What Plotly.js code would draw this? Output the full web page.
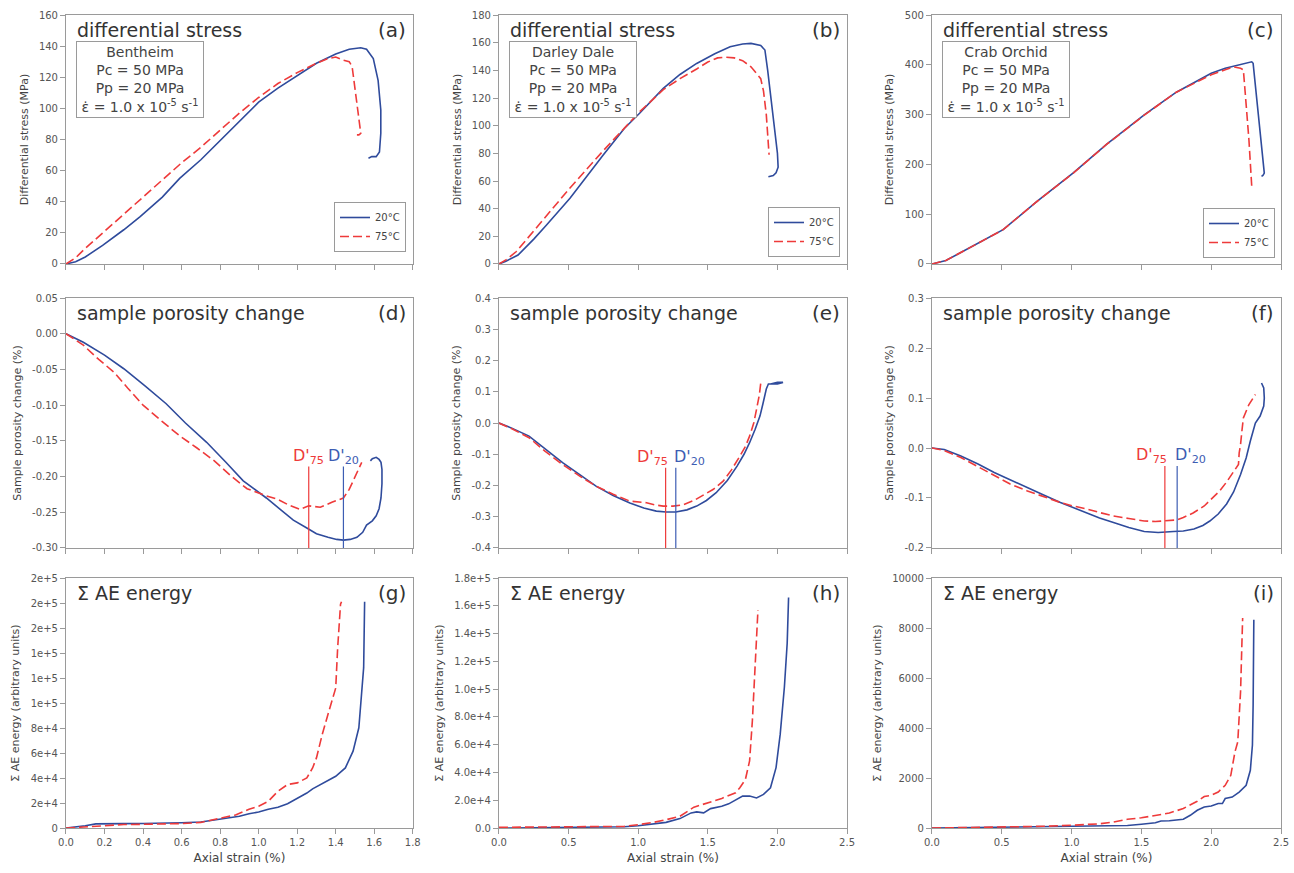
<!DOCTYPE html>
<html>
<head>
<meta charset="utf-8">
<script src="https://cdn.plot.ly/plotly-3.0.1.min.js"></script>
<style>html,body{margin:0;padding:0;background:#fff;}#chart{width:1294px;height:873px;}</style>
</head>
<body>
<div id="chart"></div>
<script>
// ---------- DATA ----------
const seriesNames = ["20°C", "75°C"];
const rocks = ["Bentheim", "Darley Dale", "Crab Orchid"];
const panelLetters = ["(a)","(b)","(c)","(d)","(e)","(f)","(g)","(h)","(i)"];

// (a) differential stress, Bentheim
const aX20 = [0,0.05,0.1,0.19,0.3,0.385,0.5,0.59,0.7,0.8,0.9,1.0,1.1,1.2,1.3,1.4,1.47,1.53,1.56,1.595,1.62,1.634,1.634,1.627,1.61,1.587,1.57];
const aY20 = [0,1.5,4.5,12,22,30.5,43,55,67,79.5,92,104,113,121,129,135,138,139,138,132,118,99,84,72,69,69,68];
const aX75 = [0,0.05,0.1,0.2,0.3,0.4,0.5,0.6,0.7,0.8,0.9,1.0,1.1,1.2,1.3,1.36,1.4,1.44,1.47,1.485,1.495,1.51,1.525,1.53,1.52,1.51];
const aY75 = [0,4,10,21,32,43,54,65,75,86,97,107,116,123,129,132,133,131,130,127,118,104,90,84,83,83];

// (b) differential stress, Darley Dale
const bX20 = [0,0.05,0.137,0.25,0.34,0.51,0.75,0.9,1.01,1.18,1.3,1.42,1.55,1.66,1.75,1.81,1.88,1.91,1.93,1.95,1.98,2.0,2.005,1.99,1.97,1.95,1.935];
const bY20 = [0,2,6.5,18,28,47.5,79,98,109,127,137,145,152,157,159,159.5,158,154.7,140,124,100,80,70,66,64,63.5,63];
const bX75 = [0,0.05,0.125,0.25,0.34,0.51,0.75,0.9,1.01,1.18,1.3,1.42,1.5,1.57,1.63,1.69,1.75,1.81,1.86,1.88,1.9,1.92,1.94];
const bY75 = [0,3,9,24,35,55,82,98,110,126,134,141,146,149,149.5,149,147,142.6,137,134,125,108,79];

// (c) differential stress, Crab Orchid
const cX20 = [0,0.1,0.2,0.35,0.51,0.75,1.01,1.25,1.52,1.75,2.0,2.1,2.21,2.26,2.29,2.30,2.32,2.34,2.36,2.38,2.37,2.36];
const cY20 = [0,7,22,45,69,125,182.5,240,299.5,345,383,393,400,404,406,403,345,285,225,182.5,178,176];
const cX75 = [0,0.1,0.2,0.35,0.51,0.75,1.01,1.25,1.52,1.75,2.0,2.1,2.16,2.21,2.23,2.25,2.27,2.29];
const cY75 = [0,7,22,45,69,125,182,240,299,345,380,390,396,393,390,320,249,156];

// (d) porosity change, Bentheim
const dX20 = [0,0.09,0.2,0.3,0.41,0.52,0.62,0.73,0.83,0.92,1.04,1.11,1.18,1.25,1.30,1.36,1.405,1.44,1.475,1.51,1.54,1.56,1.59,1.61,1.625,1.635,1.64,1.64,1.635,1.625,1.61,1.59,1.58];
const dY20 = [0,-0.012,-0.03,-0.049,-0.073,-0.098,-0.125,-0.152,-0.18,-0.206,-0.23,-0.245,-0.261,-0.272,-0.28,-0.285,-0.288,-0.289,-0.288,-0.285,-0.278,-0.268,-0.262,-0.255,-0.245,-0.23,-0.21,-0.19,-0.18,-0.176,-0.173,-0.175,-0.178];
const dX75 = [0,0.09,0.17,0.25,0.32,0.4,0.5,0.59,0.68,0.77,0.86,0.94,1.04,1.1,1.15,1.215,1.26,1.32,1.38,1.44,1.47,1.49,1.515,1.535];
const dY75 = [0,-0.016,-0.036,-0.054,-0.076,-0.1,-0.123,-0.143,-0.16,-0.178,-0.2,-0.217,-0.227,-0.232,-0.239,-0.246,-0.241,-0.243,-0.236,-0.23,-0.218,-0.206,-0.193,-0.18];

// (e) porosity change, Darley Dale
const eX20 = [0,0.1,0.216,0.33,0.457,0.58,0.697,0.82,0.94,1.04,1.13,1.2,1.27,1.35,1.42,1.49,1.56,1.64,1.71,1.76,1.80,1.84,1.875,1.895,1.92,1.935,2.0,2.04,2.0,1.95];
const eY20 = [0,-0.018,-0.042,-0.083,-0.127,-0.165,-0.202,-0.232,-0.256,-0.272,-0.282,-0.285,-0.285,-0.278,-0.266,-0.248,-0.223,-0.184,-0.138,-0.1,-0.063,-0.02,0.023,0.06,0.109,0.125,0.125,0.13,0.13,0.125];
const eX75 = [0,0.1,0.216,0.33,0.457,0.58,0.697,0.82,0.94,1.06,1.12,1.18,1.25,1.32,1.4,1.47,1.54,1.61,1.67,1.73,1.77,1.80,1.83,1.85,1.87,1.88];
const eY75 = [0,-0.02,-0.047,-0.09,-0.133,-0.17,-0.202,-0.228,-0.25,-0.255,-0.262,-0.266,-0.266,-0.262,-0.248,-0.229,-0.212,-0.186,-0.15,-0.106,-0.075,-0.042,0.0,0.044,0.09,0.127];

// (f) porosity change, Crab Orchid
const fX20 = [0,0.088,0.207,0.33,0.446,0.56,0.684,0.8,0.92,1.01,1.11,1.2,1.30,1.41,1.52,1.62,1.73,1.8,1.876,1.94,1.99,2.05,2.11,2.16,2.21,2.25,2.28,2.30,2.316,2.35,2.376,2.38,2.376,2.36];
const fY20 = [0,-0.003,-0.016,-0.032,-0.049,-0.064,-0.079,-0.094,-0.109,-0.119,-0.129,-0.14,-0.149,-0.159,-0.167,-0.169,-0.167,-0.166,-0.162,-0.155,-0.146,-0.132,-0.112,-0.088,-0.053,-0.02,0.014,0.035,0.05,0.064,0.084,0.1,0.12,0.13];
const fX75 = [0,0.088,0.207,0.33,0.446,0.56,0.684,0.8,0.92,1.01,1.11,1.2,1.30,1.41,1.52,1.6,1.69,1.75,1.80,1.87,1.95,2.0,2.06,2.11,2.16,2.195,2.2,2.21,2.22,2.23,2.27,2.316];
const fY75 = [0,-0.005,-0.019,-0.038,-0.056,-0.072,-0.086,-0.098,-0.109,-0.116,-0.122,-0.129,-0.136,-0.141,-0.146,-0.147,-0.146,-0.144,-0.139,-0.13,-0.116,-0.103,-0.086,-0.068,-0.046,-0.033,-0.01,0.007,0.035,0.06,0.087,0.107];

// (g) cumulative AE energy, Bentheim
const gX20 = [0,0.05,0.1,0.155,0.2,0.3,0.4,0.5,0.6,0.7,0.8,0.86,0.9,0.95,1.0,1.05,1.1,1.15,1.2,1.25,1.28,1.35,1.4,1.45,1.49,1.52,1.535,1.545,1.55];
const gY20 = [0,800,1800,3300,3500,3500,3600,3800,4200,4800,7000,8500,9400,11500,12800,15000,16600,19500,23500,28000,31300,37400,41400,48100,61500,80200,107000,128300,181000];
const gX75 = [0,0.1,0.155,0.22,0.3,0.4,0.5,0.6,0.7,0.8,0.88,0.95,1.0,1.05,1.1,1.15,1.2,1.25,1.28,1.3,1.33,1.36,1.39,1.40,1.41,1.425,1.43];
const gY75 = [0,1000,1300,2100,2800,3000,3200,3600,4500,7500,10500,15000,17400,21400,29400,34800,36100,40100,48100,56100,74900,91000,107000,112000,144000,179000,181000];

// (h) cumulative AE energy, Darley Dale
const hX20 = [0,0.3,0.6,0.8,0.9,1.0,1.1,1.2,1.3,1.38,1.42,1.47,1.52,1.6,1.65,1.7,1.75,1.8,1.85,1.9,1.95,1.99,2.02,2.05,2.07,2.08];
const hY20 = [0,200,300,500,900,1700,2900,4100,6800,10900,11600,10900,14000,15700,17400,20500,23000,23000,21700,24200,29000,43500,67600,101500,133000,166000];
const hX75 = [0,0.3,0.6,0.8,0.9,1.0,1.1,1.2,1.3,1.4,1.5,1.55,1.6,1.7,1.73,1.77,1.8,1.82,1.84,1.86];
const hY75 = [500,600,700,800,1200,2400,3900,6000,8500,15000,18100,19300,21300,25400,29000,35000,48300,77300,120800,157000];

// (i) cumulative AE energy, Crab Orchid
const iX20 = [0,0.5,1.0,1.2,1.4,1.5,1.6,1.64,1.7,1.8,1.85,1.9,1.95,2.0,2.05,2.08,2.1,2.15,2.2,2.25,2.28,2.295,2.30,2.305];
const iY20 = [0,30,80,70,100,150,210,280,290,350,510,710,840,880,980,980,1180,1240,1440,1710,2310,3320,4920,8330];
const iX75 = [0,0.5,0.8,1.0,1.2,1.3,1.4,1.5,1.6,1.7,1.8,1.9,1.95,2.0,2.05,2.1,2.14,2.17,2.19,2.21,2.22,2.225];
const iY75 = [0,30,70,110,170,240,350,410,510,600,780,1070,1260,1310,1440,1710,2110,3050,3450,5450,7460,8400];

// D' (onset of dilatancy) strains and label heights
const dPrimeNames = ["D'<sub>75</sub>", "D'<sub>20</sub>"];
const dPrimeD = [1.26, 1.44];
const dPrimeE = [1.197, 1.27];
const dPrimeF = [1.668, 1.756];
const dPrimeTop = [-0.186, -0.143, -0.036];

// tick labels
const gTickVals = [0,20000,40000,60000,80000,100000,120000,140000,160000,180000,200000];
const gTickText = ["0","2e+4","4e+4","6e+4","8e+4","1e+5","1e+5","1e+5","2e+5","2e+5","2e+5"];
const hTickVals = [0,20000,40000,60000,80000,100000,120000,140000,160000,180000];
const hTickText = ["0.0","2.0e+4","4.0e+4","6.0e+4","8.0e+4","1.0e+5","1.2e+5","1.4e+5","1.6e+5","1.8e+5"];
const dTickVals = [0.05,0,-0.05,-0.10,-0.15,-0.20,-0.25,-0.30];
const dTickText = ["0.05","0.00","-0.05","-0.10","-0.15","-0.20","-0.25","-0.30"];
const eTickVals = [0.4,0.3,0.2,0.1,0,-0.1,-0.2,-0.3,-0.4];
const eTickText = ["0.4","0.3","0.2","0.1","0.0","-0.1","-0.2","-0.3","-0.4"];
const fTickVals = [0.3,0.2,0.1,0,-0.1,-0.2];
const fTickText = ["0.3","0.2","0.1","0.0","-0.1","-0.2"];

// ---------- STYLE ----------
const BLUE = '#2f4b9c', RED = '#ee3a3a', LBLUE = '#3d5db3';
const FONT = 'DejaVu Sans, Verdana, sans-serif';
const colDom = [[0.051,0.319],[0.3856,0.6546],[0.7202,0.990]];
const rowDom = [[0.6976,0.9828],[0.3723,0.6586],[0.0515,0.3379]];

const xs = [[aX20,aX75],[bX20,bX75],[cX20,cX75],[dX20,dX75],[eX20,eX75],[fX20,fX75],[gX20,gX75],[hX20,hX75],[iX20,iX75]];
const ys = [[aY20,aY75],[bY20,bY75],[cY20,cY75],[dY20,dY75],[eY20,eY75],[fY20,fY75],[gY20,gY75],[hY20,hY75],[iY20,iY75]];

const data = [];
for (let p = 0; p < 9; p++) {
  const sfx = p === 0 ? '' : String(p + 1);
  for (let s = 0; s < 2; s++) {
    const t = {
      x: xs[p][s], y: ys[p][s], type: 'scatter', mode: 'lines',
      xaxis: 'x' + sfx, yaxis: 'y' + sfx, name: seriesNames[s],
      line: s === 0 ? {color: BLUE, width: 1.6} : {color: RED, width: 1.6, dash: '9px,4px'},
      showlegend: p < 3
    };
    if (p < 3) t.legend = p === 0 ? 'legend' : 'legend' + (p + 1);
    data.push(t);
  }
}

const xRanges = [[0,1.8],[0,2.5],[0,2.5]];
const xDt = [0.2, 0.5, 0.5];
const yRanges = [[0,160],[0,180],[0,500],[-0.30,0.05],[-0.4,0.4],[-0.2,0.3],[0,200000],[0,180000],[0,10000]];
const yDt = [20,20,100,null,null,null,null,null,2000];
const yTicks = {3:[dTickVals,dTickText],4:[eTickVals,eTickText],5:[fTickVals,fTickText],6:[gTickVals,gTickText],7:[hTickVals,hTickText]};
const yTitles = ["Differential stress (MPa)","Sample porosity change (%)","Σ AE energy (arbitrary units)"];

const layout = {
  width: 1294, height: 873, margin: {l:0, r:0, t:0, b:0},
  paper_bgcolor: '#fff', plot_bgcolor: '#fff',
  font: {family: FONT, color: '#444'},
  hovermode: false, annotations: [], shapes: []
};

for (let p = 0; p < 9; p++) {
  const r = Math.floor(p / 3), c = p % 3;
  const sfx = p === 0 ? '' : String(p + 1);
  const common = {
    showline: true, mirror: true, linecolor: '#9a9a9a', linewidth: 1,
    ticks: 'outside', ticklen: 5, tickcolor: '#9a9a9a',
    showgrid: false, zeroline: false,
    tickfont: {size: 10, color: '#555', family: FONT}
  };
  const xa = Object.assign({}, common, {
    domain: colDom[c], range: xRanges[c], dtick: xDt[c], tick0: 0,
    anchor: 'y' + sfx, tickformat: '.1f', showticklabels: r === 2
  });
  if (r === 2) xa.title = {text: 'Axial strain (%)', font: {size: 12, color: '#444', family: FONT}, standoff: 6};
  const ya = Object.assign({}, common, {
    domain: rowDom[r], range: yRanges[p], anchor: 'x' + sfx,
    title: {text: yTitles[r], font: {size: 11, color: '#444', family: FONT}, standoff: 8}
  });
  if (yDt[p] !== null) { ya.dtick = yDt[p]; ya.tick0 = 0; ya.tickformat = 'd'; }
  if (yTicks[p]) { ya.tickmode = 'array'; ya.tickvals = yTicks[p][0]; ya.ticktext = yTicks[p][1]; }
  layout['xaxis' + sfx] = xa;
  layout['yaxis' + sfx] = ya;

  const titles = ["differential stress", "sample porosity change", "Σ AE energy"];
  layout.annotations.push({
    xref: 'x' + sfx + ' domain', yref: 'y' + sfx + ' domain',
    x: 0.025, y: 0.94, xanchor: 'left', yanchor: 'middle', showarrow: false,
    text: titles[r], font: {size: 19, color: '#333', family: FONT}
  });
  layout.annotations.push({
    xref: 'x' + sfx + ' domain', yref: 'y' + sfx + ' domain',
    x: 0.985, y: 0.94, xanchor: 'right', yanchor: 'middle', showarrow: false,
    text: panelLetters[p], font: {size: 20, color: '#333', family: FONT}
  });
  if (r === 0) {
    layout.annotations.push({
      xref: 'x' + sfx + ' domain', yref: 'y' + sfx + ' domain',
      x: 0.028, y: 0.895, xanchor: 'left', yanchor: 'top', showarrow: false,
      text: rocks[c] + '<br>Pc = 50 MPa<br>Pp = 20 MPa<br>ε̇ = 1.0 x 10<sup>-5</sup> s<sup>-1</sup>',
      align: 'center', bordercolor: '#9a9a9a', borderwidth: 1, borderpad: 2, bgcolor: '#fff',
      width: 122, font: {size: 14, color: '#444', family: FONT}
    });
  }
}

// D' lines and labels
const dPrimeSets = [dPrimeD, dPrimeE, dPrimeF];
const dPrimeAnchor = [['center','center'],['right','left'],['right','left']];
const dPrimeShift = [[0,0],[4,-4],[4,-4]];
for (let k = 0; k < 3; k++) {
  const sfx = String(k + 4);
  const yMin = yRanges[k + 3][0];
  for (let s = 0; s < 2; s++) {
    const col = s === 0 ? RED : LBLUE;
    layout.shapes.push({
      type: 'line', xref: 'x' + sfx, yref: 'y' + sfx,
      x0: dPrimeSets[k][s], x1: dPrimeSets[k][s], y0: yMin, y1: dPrimeTop[k],
      line: {color: col, width: 1.2}
    });
    layout.annotations.push({
      xref: 'x' + sfx, yref: 'y' + sfx, x: dPrimeSets[k][s], y: dPrimeTop[k],
      xanchor: dPrimeAnchor[k][s], yanchor: 'bottom', showarrow: false,
      yshift: -2, xshift: dPrimeShift[k][s],
      text: dPrimeNames[s], font: {size: 16, color: col, family: FONT}
    });
  }
}

// legends
const legPos = [[406/1294, 1-252/873],[840/1294, 1-257/873],[1275/1294, 1-258/873]];
['legend','legend2','legend3'].forEach((nm, i) => {
  layout[nm] = {
    x: legPos[i][0], y: legPos[i][1], xanchor: 'right', yanchor: 'bottom',
    bordercolor: '#9a9a9a', borderwidth: 1, bgcolor: '#fff',
    font: {size: 10, color: '#444', family: FONT}, tracegroupgap: 0
  };
});

Plotly.newPlot('chart', data, layout, {displayModeBar: false, staticPlot: true});
</script>
</body>
</html>
